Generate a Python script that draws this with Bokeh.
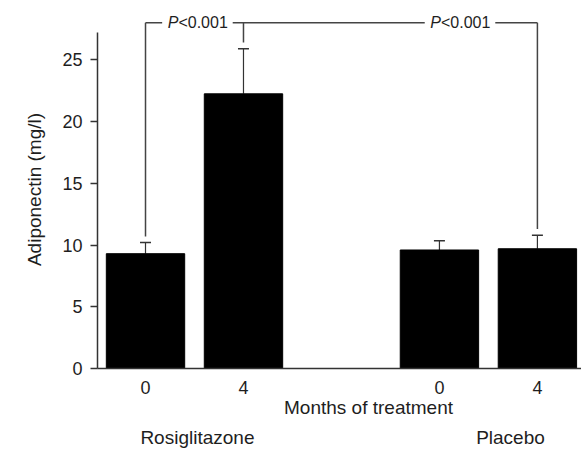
from bokeh.plotting import figure
from bokeh.models import (ColumnDataSource, Range1d, FixedTicker, Whisker, Label,
                          TeeHead, LinearAxis)
from bokeh.embed import file_html
from bokeh.resources import INLINE

# Adiponectin (mg/l) by treatment arm and month
bar_pos = [0, 1, 3, 4]
month_labels = ["0", "4", "0", "4"]
means = [9.3, 22.25, 9.6, 9.7]
sems = [0.9, 3.65, 0.75, 1.1]
groups = ["Rosiglitazone", "Placebo"]
group_pos = [0.53, 3.725]
x_title = "Months of treatment"
x_title_pos = 2.276
p_text = "P<0.001"

FONT = "Liberation Sans"
INK = "#1e1e1e"

p = figure(width=581, height=451,
           x_range=Range1d(-0.49, 4.45), y_range=Range1d(0, 29),
           output_backend="svg", toolbar_location=None,
           min_border_left=97, min_border_right=0,
           min_border_top=10, min_border_bottom=83)
p.outline_line_color = None
p.xgrid.visible = False
p.ygrid.visible = False
p.background_fill_color = "white"

upper = [m + s for m, s in zip(means, sems)]
src = ColumnDataSource(dict(x=bar_pos, top=means, upper=upper))

p.vbar(x="x", top="top", bottom=0, width=0.8, source=src,
       fill_color="black", line_color="black")

p.add_layout(Whisker(base="x", lower="top", upper="upper", source=src,
                     line_color="#333333", line_width=1.2,
                     lower_head=None,
                     upper_head=TeeHead(size=11, line_color="#333333", line_width=1.5),
                     level="underlay"))

# axes
yax = p.yaxis[0]
yax.ticker = FixedTicker(ticks=[0, 5, 10, 15, 20, 25])
yax.bounds = (0, 27.2)
yax.axis_label = "Adiponectin (mg/l)"
yax.axis_label_text_font = FONT
yax.axis_label_text_font_size = "19px"
yax.axis_label_text_font_style = "normal"
yax.axis_label_text_color = INK
yax.axis_label_standoff = 14
yax.major_label_text_font = FONT
yax.major_label_text_font_size = "18px"
yax.major_label_text_color = INK
yax.major_label_standoff = 8
yax.major_tick_out = 7
yax.major_tick_in = 0
yax.minor_tick_out = 0
yax.minor_tick_in = 0
yax.axis_line_width = 1.5
yax.axis_line_color = "#333333"
yax.major_tick_line_width = 1.5
yax.major_tick_line_color = "#333333"


def style_bottom_axis(ax, ticks, overrides, standoff, size):
    ax.ticker = FixedTicker(ticks=ticks)
    ax.major_label_overrides = overrides
    ax.major_label_text_font = FONT
    ax.major_label_text_font_size = size
    ax.major_label_text_color = INK
    ax.major_label_standoff = standoff
    ax.major_tick_out = 0
    ax.major_tick_in = 0
    ax.minor_tick_out = 0
    ax.minor_tick_in = 0


xax = p.xaxis[0]
style_bottom_axis(xax, bar_pos, {b: lab for b, lab in zip(bar_pos, month_labels)},
                  12, "18px")
xax.axis_line_width = 1.5
xax.axis_line_color = "#333333"

# caption rows under the month ticks
title_ax = LinearAxis()
style_bottom_axis(title_ax, [x_title_pos], {x_title_pos: x_title}, 0, "19px")
title_ax.axis_line_color = None
p.add_layout(title_ax, "below")

group_ax = LinearAxis()
style_bottom_axis(group_ax, group_pos, {g: name for g, name in zip(group_pos, groups)},
                  6, "19px")
group_ax.axis_line_color = None
p.add_layout(group_ax, "below")

# significance brackets: bar 0 -> bar 1, bar 1 -> bar 3
bracket_y = 28.0
drop_gap = 0.5
p_centers = [0.53, 3.21]
half_gap = 0.36
line_kw = dict(line_color="#444444", line_width=1.5)

# vertical drops from the bracket to just above each compared bar's error cap
for i in (0, 1, 3):
    p.line([bar_pos[i], bar_pos[i]], [upper[i] + drop_gap, bracket_y], **line_kw)

# horizontal run, broken where the P labels sit
segs = [(bar_pos[0], p_centers[0] - half_gap),
        (p_centers[0] + half_gap, p_centers[1] - half_gap),
        (p_centers[1] + half_gap, bar_pos[3])]
for a, b in segs:
    p.line([a, b], [bracket_y, bracket_y], **line_kw)

for c in p_centers:
    p.add_layout(Label(x=c, y=bracket_y, x_offset=-19, text=p_text[0],
                       text_font=FONT, text_font_size="16px", text_font_style="italic",
                       text_color=INK, text_align="right", text_baseline="middle"))
    p.add_layout(Label(x=c, y=bracket_y, x_offset=-19, text=p_text[1:],
                       text_font=FONT, text_font_size="16px",
                       text_color=INK, text_align="left", text_baseline="middle"))

open("out.html", "w").write(file_html(p, INLINE))
